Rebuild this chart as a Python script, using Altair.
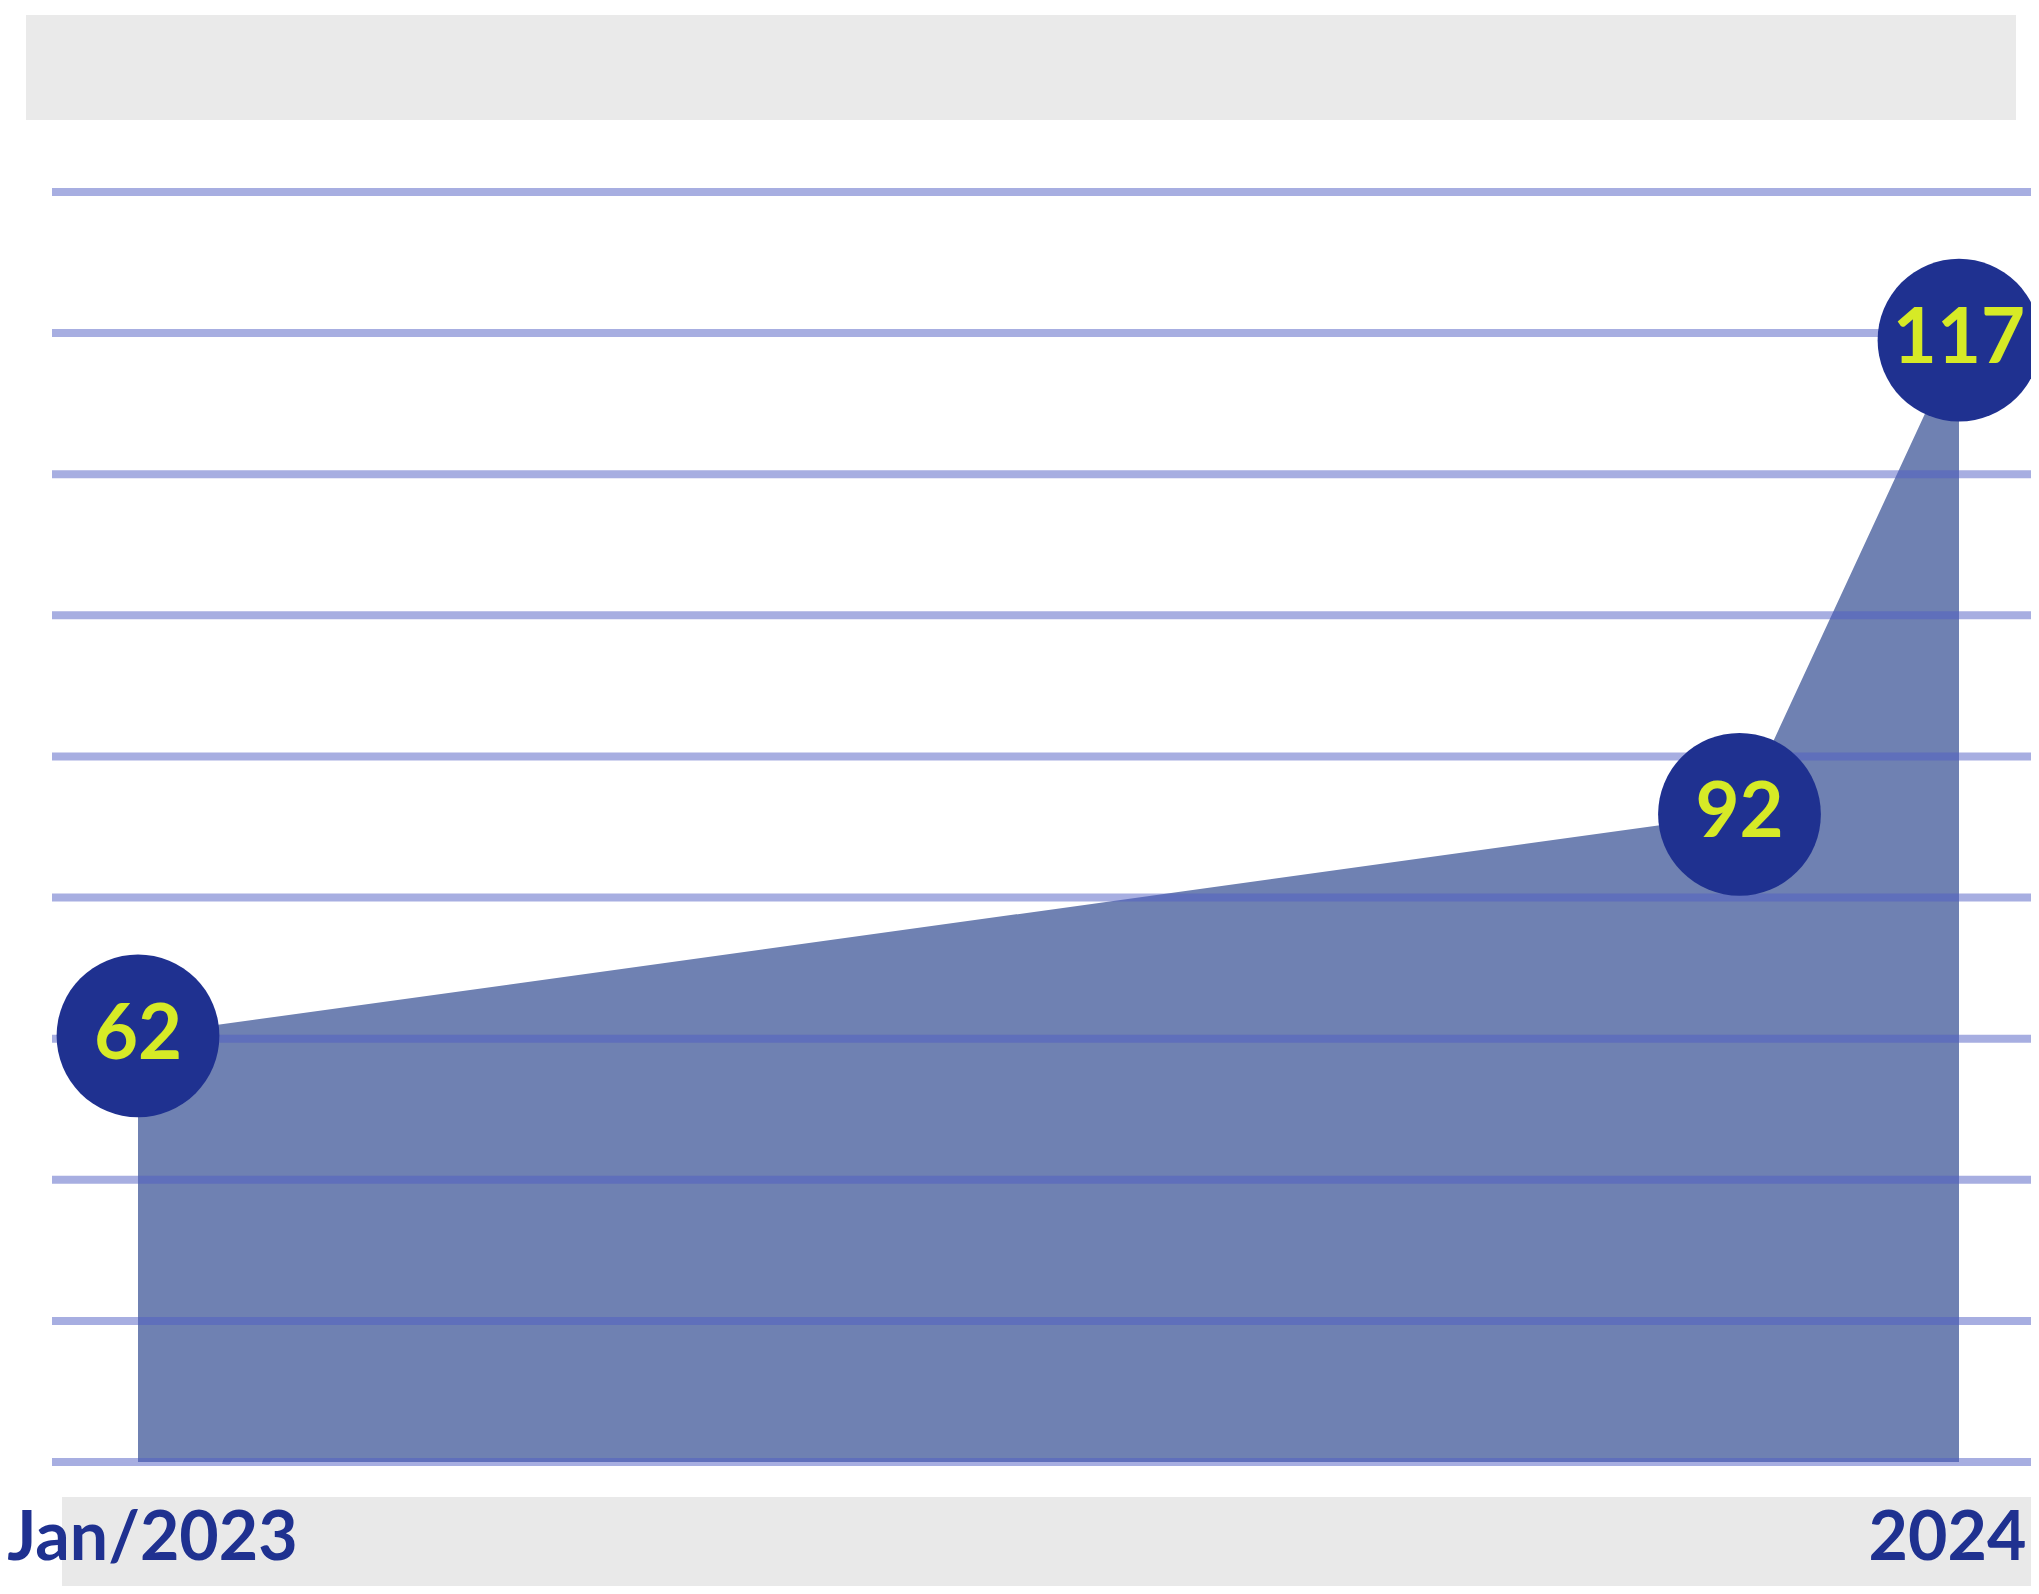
import altair as alt
import pandas as pd

# ---- data ----
dates = ["2023-01-01T00:00:00", "2023-11-18T00:00:00", "2024-01-01T00:00:00"]
labels = [62, 92, 117]            # numbers printed in the circles
levels = [30.2, 45.9, 79.5]       # heights of the area on the (hidden) y axis
grid_values = [0, 10, 20, 30, 40, 50, 60, 70, 80, 90]
tick_dates = [(2023, 1, 1), (2024, 1, 1)]
tick_labels = ["Jan/2023", "2024"]

df = pd.DataFrame({"date": dates, "label": labels, "level": levels})
grid_df = pd.DataFrame({"g": grid_values})
one = pd.DataFrame({"k": [0]})

NAVY = "#1f3190"
n = len(tick_labels)
expr = f"'{tick_labels[-1]}'"
for i in range(n - 2, -1, -1):
    expr = f"datum.index <= {(i + 0.5) / (n - 1)} ? '{tick_labels[i]}' : {expr}"

x_axis = alt.Axis(
    values=[alt.DateTime(year=y, month=m, date=d) for y, m, d in tick_dates],
    labelExpr=expr, title=None, domain=False, ticks=False, tickSize=0, grid=False,
    labelFont="Lato", labelFontSize=68, labelFontWeight="bold", labelColor=NAVY,
    labelPadding=97, labelBaseline="alphabetic", labelAlign="center", labelLimit=0,
    labelOffset={"condition": {"test": "datum.index == 0", "value": 14},
                 "value": -12},
    labelOverlap=False, zindex=1,
)
x_scale = alt.Scale(domain=[alt.DateTime(year=2022, month=12, date=14, hours=18, minutes=17),
                            alt.DateTime(year=2024, month=1, date=15, hours=10, minutes=22)])
y_scale = alt.Scale(domain=[0, 90], nice=False, zero=True)

X = alt.X("date:T", scale=x_scale, axis=x_axis)
Y = alt.Y("level:Q", scale=y_scale, axis=None)

band_top = alt.Chart(one).mark_rect(color="#eaeaea").encode(
    x=alt.value(-26), x2=alt.value(1964), y=alt.value(-177), y2=alt.value(-72))
band_bottom = alt.Chart(one).mark_rect(color="#e9e9e9").encode(
    x=alt.value(10), x2=alt.value(1979), y=alt.value(1305), y2=alt.value(1394))

area = alt.Chart(df).mark_area(color="#6f81b2", opacity=1).encode(x=X, y=Y)

rules = alt.Chart(grid_df).mark_rule(color="#4f5ec4", opacity=0.5, strokeWidth=8).encode(
    y=alt.Y("g:Q", scale=y_scale, axis=None))

points = alt.Chart(df).mark_circle(size=26500, opacity=1, color=NAVY).encode(x=X, y=Y)

text = alt.Chart(df).mark_text(font="Lato", fontSize=76, fontWeight="bold", color="#d6ea26",
                               baseline="middle", align="center").encode(
    x=X, y=Y, text=alt.Text("label:Q"))

chart = alt.layer(band_top, band_bottom, area, rules, points, text).properties(
    width=1979, height=1270,
    padding={"left": 44, "top": 184, "right": 0, "bottom": 124},
    autosize=alt.AutoSizeParams(type="none"),
    background="white",
).configure_view(stroke=None)

chart.save("out.html", embed_options={"renderer": "svg", "actions": False})
